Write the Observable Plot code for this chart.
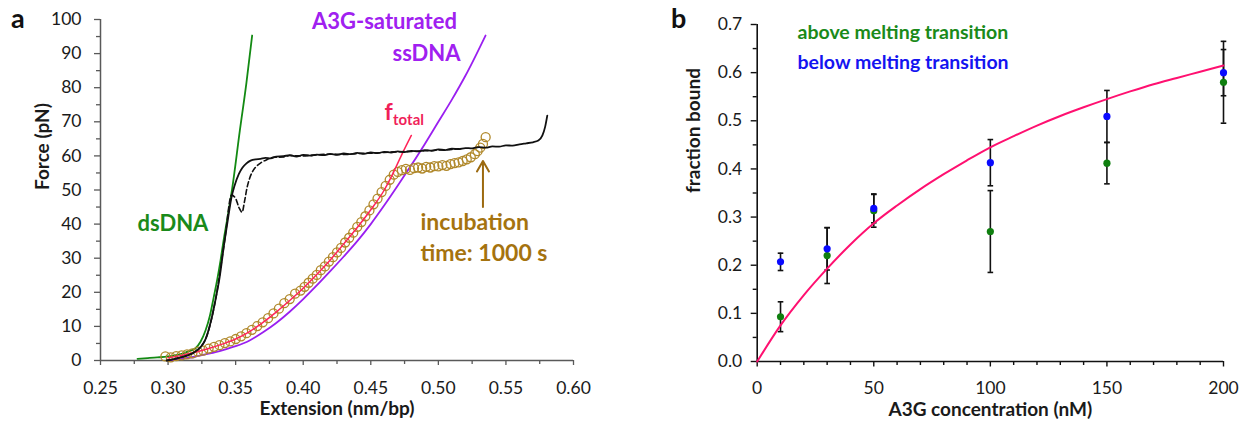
<!DOCTYPE html>
<html><head><meta charset="utf-8">
<script src="https://cdn.jsdelivr.net/npm/d3@7"></script>
<script src="https://cdn.jsdelivr.net/npm/@observablehq/plot@0.6"></script>
<style>
body{margin:0;background:#fff;}
#wrap{position:relative;width:1251px;height:421px;overflow:hidden;background:#fff;}
#pa{position:absolute;left:0;top:0;width:640px;height:421px;}
#pb{position:absolute;left:640px;top:0;width:611px;height:421px;}
#ov{position:absolute;left:0;top:0;pointer-events:none;}
</style></head><body>
<div id="wrap"><div id="pa"></div><div id="pb"></div>
<svg id="ov" width="1251" height="421"><text x="11" y="28" font-family="Lato" font-weight="bold" font-size="27" fill="#111">a</text><text x="671" y="28" font-family="Lato" font-weight="bold" font-size="27" fill="#111">b</text></svg>
</div>
<script>
// ---------- Panel a data (extension nm/bp, force pN) ----------
const xTicksA = [0.25,0.30,0.35,0.40,0.45,0.50,0.55,0.60];
const xMinorA = [0.275,0.325,0.375,0.425,0.475,0.525,0.575];
const yTicksA = [0,10,20,30,40,50,60,70,80,90,100];
const yMinorA = [5,15,25,35,45,55,65,75,85,95];

const dsDNAmodel = [[0.2774,0.5],[0.285,0.7],[0.292,0.9],[0.300,1.2],[0.306,1.6],[0.312,2.2],[0.316,2.8],[0.3203,3.6],[0.324,5.5],[0.3277,8.8],[0.331,13.2],[0.3338,18.6],[0.3365,24],[0.3388,29.3],[0.341,35],[0.344,42],[0.3474,50.3],[0.3531,67.4],[0.358,81.5],[0.3622,95.3]];

const stretchSolid = [[0.299,0],[0.305,0.5],[0.310,1.0],[0.315,1.6],[0.320,2.6],[0.324,3.9],[0.328,6.5],[0.332,12],[0.335,17.6],[0.338,24],[0.3418,35],[0.3445,42],[0.347,48],[0.349,51],[0.3524,54.7],[0.355,56.5],[0.358,57.8],[0.361,58.6],[0.365,59.0],[0.3684,59.1],[0.372,59.4],[0.376,59.3],[0.380,59.8],[0.3854,59.9],[0.390,60.2],[0.395,59.8],[0.400,60.3],[0.405,60.1],[0.410,60.4],[0.415,60.2],[0.420,60.6],[0.425,60.3],[0.430,60.7],[0.435,60.5],[0.440,60.9],[0.445,60.6],[0.450,61.0],[0.455,60.8],[0.460,61.2],[0.465,61.0],[0.470,61.3],[0.475,61.1],[0.480,61.5],[0.485,61.3],[0.490,61.7],[0.495,61.5],[0.500,61.9],[0.505,61.7],[0.510,62.1],[0.515,62.0],[0.520,62.3],[0.525,62.2],[0.530,62.6],[0.535,62.4],[0.540,62.8],[0.545,62.7],[0.550,63.1],[0.555,63.0],[0.560,63.4],[0.565,63.7],[0.570,64.0],[0.574,64.5],[0.577,66.0],[0.579,68.5],[0.5806,71.8]];

const stretchDashed = [[0.299,0],[0.310,1.0],[0.320,2.6],[0.328,6.5],[0.335,17.6],[0.3418,35],[0.347,48.5],[0.350,47.5],[0.3525,44.8],[0.3548,43.5],[0.3565,46.5],[0.3585,50.8],[0.3605,53.6],[0.3622,55.2],[0.365,56.8],[0.3684,57.9],[0.373,58.9],[0.3783,59.6],[0.385,59.7],[0.390,60.1],[0.400,60.0],[0.410,60.3],[0.420,60.5],[0.430,60.4],[0.440,60.7],[0.450,60.8],[0.460,61.0],[0.470,61.2],[0.480,61.3],[0.490,61.5],[0.500,61.7],[0.510,61.9],[0.515,62.1]];

const ssDNAmodel = [[0.300,0],[0.310,0.5],[0.320,1.1],[0.330,2.0],[0.340,3.0],[0.350,4.2],[0.360,5.8],[0.370,8.2],[0.380,11.0],[0.390,14.3],[0.400,18.0],[0.410,22.0],[0.420,26.2],[0.430,30.5],[0.440,35.0],[0.450,40.0],[0.460,45.5],[0.470,51.3],[0.480,57.3],[0.490,63.5],[0.500,70.0],[0.510,76.5],[0.520,83.5],[0.5349,95.3]];

const fTotal = [[0.300,0.8],[0.310,1.5],[0.320,2.4],[0.330,3.5],[0.340,4.8],[0.350,6.3],[0.360,8.4],[0.370,11.1],[0.380,14.2],[0.390,17.6],[0.400,21.2],[0.410,25.2],[0.420,29.5],[0.430,34.2],[0.440,39.0],[0.450,44.2],[0.460,50.0],[0.4646,53.4],[0.4732,60.6],[0.480,66.0]];

const incubated = [[0.298,1.2],[0.302,0.9],[0.306,1.3],[0.310,1.5],[0.314,1.8],[0.318,2.1],[0.322,2.6],[0.326,2.9],[0.330,3.5],[0.334,4.0],[0.338,4.5],[0.342,5.1],[0.346,5.6],[0.350,6.3],[0.354,7.1],[0.358,8.0],[0.362,9.0],[0.366,10.1],[0.370,11.2],[0.374,12.4],[0.378,13.8],[0.382,15.2],[0.386,16.8],[0.390,18.0],[0.394,19.6],[0.398,20.5],[0.401,21.6],[0.404,22.8],[0.407,24.0],[0.410,25.1],[0.413,26.5],[0.416,27.6],[0.419,29.0],[0.422,30.3],[0.425,31.7],[0.428,33.0],[0.431,34.6],[0.434,36.0],[0.437,37.5],[0.440,39.2],[0.443,40.6],[0.446,42.3],[0.449,44.0],[0.452,45.8],[0.455,47.5],[0.458,49.4],[0.461,51.2],[0.464,53.0],[0.467,54.5],[0.470,55.3],[0.473,55.8],[0.476,56.2],[0.479,55.9],[0.482,56.4],[0.485,56.6],[0.488,56.3],[0.491,56.8],[0.494,56.6],[0.497,57.0],[0.500,56.9],[0.503,57.3],[0.506,57.1],[0.509,57.6],[0.512,57.9],[0.515,58.1],[0.518,58.5],[0.521,59.0],[0.524,59.6],[0.527,60.5],[0.529,61.4],[0.531,62.4],[0.533,63.5],[0.535,65.5]];

// ---------- Panel b data ----------
const xTicksB = [0,50,100,150,200];
const xMinorB = [10,20,30,40,60,70,80,90,110,120,130,140,160,170,180,190];
const yTicksB = [0,0.1,0.2,0.3,0.4,0.5,0.6,0.7];
const yMinorB = [0.05,0.15,0.25,0.35,0.45,0.55,0.65];

const conc = [10,30,50,100,150,200];
const aboveVal = [0.093,0.220,0.313,0.270,0.412,0.580];
const aboveErr = [0.031,0.058,0.034,0.085,0.043,0.085];
const belowVal = [0.207,0.234,0.318,0.413,0.509,0.600];
const belowErr = [0.018,0.044,0.030,0.048,0.054,0.048];

const fitConc = [0,10,20,30,40,50,60,70,80,90,100,110,120,130,140,150,160,170,180,190,200];
const fitVal = [0,0.075,0.138,0.193,0.243,0.287,0.324,0.358,0.389,0.418,0.445,0.468,0.490,0.510,0.528,0.545,0.561,0.576,0.589,0.602,0.615];

// ---------- build ----------
const pt = a => a.map(([x,y]) => ({x,y}));
const FONT = "Lato";
const axisA = "#595959";
const ochre = "#a5730f";
const TITLE = 19;

const figA = Plot.plot({
  width: 640, height: 421,
  marginLeft: 100, marginRight: 67, marginTop: 19, marginBottom: 61,
  x: {domain: [0.25, 0.60], label: null},
  y: {domain: [0, 100], label: null},
  style: {fontFamily: FONT, fontSize: "17px", color: "#1a1a1a", background: "transparent", overflow: "visible"},
  marks: [
    Plot.axisX({ticks: xTicksA, tickSize: 5, tickPadding: 16, tickFormat: d3.format(".2f"), stroke: axisA, strokeWidth: 1.3, fontSize: 17.5, fill: "#1a1a1a"}),
    Plot.axisX({ticks: xMinorA, tickSize: 4, tickFormat: () => "", stroke: axisA, strokeWidth: 1.3}),
    Plot.axisY({ticks: yTicksA, tickSize: 6, tickPadding: 13, tickFormat: d3.format("d"), stroke: axisA, strokeWidth: 1.3, fontSize: 17.5, fill: "#1a1a1a"}),
    Plot.axisY({ticks: yMinorA, tickSize: 4, tickFormat: () => "", stroke: axisA, strokeWidth: 1.3}),
    Plot.ruleY([0], {stroke: axisA, strokeWidth: 1.5}),
    Plot.ruleX([0.25], {stroke: axisA, strokeWidth: 1.5}),
    Plot.line(pt(dsDNAmodel), {x: "x", y: "y", stroke: "#138a13", strokeWidth: 1.8, curve: "monotone-x"}),
    Plot.line(pt(ssDNAmodel), {x: "x", y: "y", stroke: "#9a1ff0", strokeWidth: 1.8, curve: "monotone-x"}),
    Plot.dot(pt(incubated), {x: "x", y: "y", r: 4.5, stroke: "#b0882a", fill: "none", strokeWidth: 1.3}),
    Plot.line(pt(fTotal), {x: "x", y: "y", stroke: "#ff2458", strokeWidth: 1.5, curve: "monotone-x"}),
    Plot.line(pt(stretchDashed), {x: "x", y: "y", stroke: "#111", strokeWidth: 1.6, strokeDasharray: "5,3", curve: "monotone-x"}),
    Plot.line(pt(stretchSolid), {x: "x", y: "y", stroke: "#111", strokeWidth: 1.8, curve: "monotone-x"}),
    Plot.arrow([0], {x1: () => 0.533, y1: () => 45, x2: () => 0.533, y2: () => 58.5, stroke: "#9c6a10", strokeWidth: 2, headLength: 9}),
    Plot.text(["A3G-saturated"], {x: () => 0.4601, y: () => 99.4, textAnchor: "middle", fill: "#a020f0", fontWeight: "bold", fontSize: 22}),
    Plot.text(["ssDNA"], {x: () => 0.5164, y: () => 90.0, textAnchor: "end", fill: "#a020f0", fontWeight: "bold", fontSize: 22}),
    Plot.text(["f"], {x: () => 0.4601, y: () => 72.6, textAnchor: "start", fill: "#f01f5a", fontWeight: "bold", fontSize: 23}),
    Plot.text(["total"], {x: () => 0.4665, y: () => 70.4, textAnchor: "start", fill: "#f01f5a", fontWeight: "bold", fontSize: 15}),
    Plot.text(["dsDNA"], {x: () => 0.2774, y: () => 40.0, textAnchor: "start", fill: "#1a8a1a", fontWeight: "bold", fontSize: 22}),
    Plot.text(["incubation"], {x: () => 0.4868, y: () => 40.3, textAnchor: "start", fill: ochre, fontWeight: "bold", fontSize: 23}),
    Plot.text(["time: 1000 s"], {x: () => 0.4868, y: () => 31.4, textAnchor: "start", fill: ochre, fontWeight: "bold", fontSize: 23}),
    Plot.text(["Extension (nm/bp)"], {frameAnchor: "bottom", lineAnchor: "middle", dy: 48, fontWeight: "bold", fontSize: TITLE, fill: "#1a1a1a"}),
    Plot.text(["Force (pN)"], {frameAnchor: "left", lineAnchor: "middle", rotate: -90, dx: -58, fontWeight: "bold", fontSize: TITLE, fill: "#1a1a1a"})
  ]
});
document.getElementById("pa").append(figA);

const errRows = (vals, errs) => conc.map((c, i) => ({x: c, v: vals[i], lo: vals[i] - errs[i], hi: vals[i] + errs[i]}));
const above = errRows(aboveVal, aboveErr);
const below = errRows(belowVal, belowErr);
const bars = above.concat(below);
const caps = bars.flatMap(d => [{x: d.x, y: d.lo}, {x: d.x, y: d.hi}]);
const fit = fitConc.map((c, i) => ({x: c, y: fitVal[i]}));

const figB = Plot.plot({
  width: 611, height: 421,
  marginLeft: 116.7, marginRight: 28, marginTop: 24, marginBottom: 60,
  x: {domain: [0, 200], label: null},
  y: {domain: [0, 0.7], label: null},
  style: {fontFamily: FONT, fontSize: "17px", color: "#1a1a1a", background: "transparent", overflow: "visible"},
  marks: [
    Plot.axisX({ticks: xTicksB, tickSize: 5.5, tickPadding: 15, tickFormat: d3.format("d"), stroke: "#111", strokeWidth: 1.4, fontSize: 17.5, fill: "#1a1a1a"}),
    Plot.axisX({ticks: xMinorB, tickSize: 4, tickFormat: () => "", stroke: "#111", strokeWidth: 1.4}),
    Plot.axisY({ticks: yTicksB, tickSize: 6, tickPadding: 9, tickFormat: d3.format(".1f"), stroke: "#111", strokeWidth: 1.4, fontSize: 17.5, fill: "#1a1a1a"}),
    Plot.axisY({ticks: yMinorB, tickSize: 4, tickFormat: () => "", stroke: "#111", strokeWidth: 1.4}),
    Plot.ruleY([0], {stroke: "#111", strokeWidth: 1.6}),
    Plot.ruleX([0], {stroke: "#111", strokeWidth: 1.6}),
    Plot.ruleX(bars, {x: "x", y1: "lo", y2: "hi", stroke: "#111", strokeWidth: 1.6}),
    Plot.link(caps, {x1: d => d.x - 1.2, x2: d => d.x + 1.2, y1: "y", y2: "y", stroke: "#111", strokeWidth: 1.6}),
    Plot.line(fit, {x: "x", y: "y", stroke: "#ff1070", strokeWidth: 2, curve: "monotone-x"}),
    Plot.dot(above, {x: "x", y: "v", r: 3.6, fill: "#0f7f0f"}),
    Plot.dot(below, {x: "x", y: "v", r: 3.6, fill: "#0a0aff"}),
    Plot.text(["above melting transition"], {x: () => 17.3, y: () => 0.683, textAnchor: "start", fill: "#1a8a1a", fontWeight: "bold", fontSize: 19.5}),
    Plot.text(["below melting transition"], {x: () => 17.3, y: () => 0.621, textAnchor: "start", fill: "#1414f0", fontWeight: "bold", fontSize: 19.5}),
    Plot.text(["A3G concentration (nM)"], {frameAnchor: "bottom", lineAnchor: "middle", dy: 48, fontWeight: "bold", fontSize: TITLE, fill: "#1a1a1a"}),
    Plot.text(["fraction bound"], {frameAnchor: "left", lineAnchor: "middle", rotate: -90, dx: -63.7, fontWeight: "bold", fontSize: TITLE, fill: "#1a1a1a"})
  ]
});
document.getElementById("pb").append(figB);
</script>
</body></html>
